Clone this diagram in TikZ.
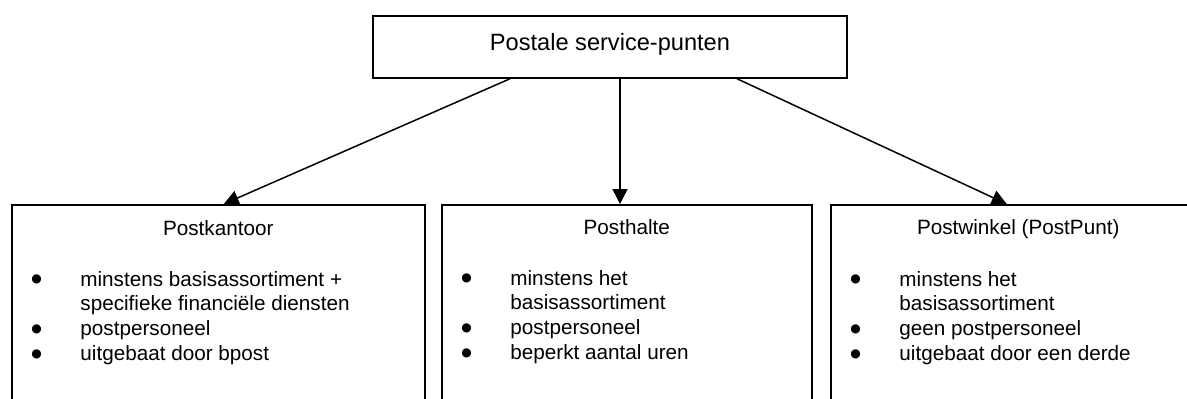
\documentclass[tikz,border=0pt]{standalone}
\usepackage{fontspec}
\setmainfont{Liberation Sans}
\newfontfamily\dejavu{DejaVu Sans}
\usetikzlibrary{arrows.meta}
\tikzset{%
    card/.style={draw,line width=0.75pt,anchor=north west,minimum height=102pt,inner sep=0pt},
    pijl/.style={line width=0.75pt,-{Triangle[length=7.5pt,width=7.5pt]}},
    kop/.style={anchor=base,inner sep=0pt,font=\fontsize{10.35}{12.4}\selectfont},
    lijst/.style={anchor=base west,inner sep=0pt,font=\fontsize{10.35}{12.4}\selectfont}
}
\newcommand{\itm}{\makebox[24.5pt][l]{\raisebox{1.6pt}{\dejavu\fontsize{6}{7}\selectfont ●}}}
\newcommand{\ind}{\hspace*{24.5pt}}

\begin{document}
\begin{tikzpicture}[x=0.5pt,y=-0.5pt]
            \path[use as bounding box] (0,0) rectangle (1187,398);
            \clip (0,0) rectangle (1187,398);
            \node[draw,line width=0.75pt,minimum width=237pt,minimum height=31pt,
                  text height=8pt,text depth=5pt,font=\fontsize{11.8}{14}\selectfont] (top) at (610,47) {Postale service-punten};

            \node[card,minimum width=206.5pt] (kantoor) at (11,204) {};
            \node[card,minimum width=185pt] (halte) at (441,204) {};
            \node[card,minimum width=187.5pt] (winkel) at (830,204) {};

            \node[kop] (kantoor-kop) at ([yshift=-15.5pt]kantoor.north) {Postkantoor};
            \node[kop] (halte-kop) at ([yshift=-15pt]halte.north) {Posthalte};
            \node[kop] (winkel-kop) at ([yshift=-15pt]winkel.north) {Postwinkel (PostPunt)};

            \node[lijst] (kantoor-lijst) at ([xshift=10pt,yshift=-41pt]kantoor.north west)
                {\begin{tabular}[t]{@{}l@{}}
                 \itm minstens basisassortiment +\\
                 \ind specifieke financiële diensten\\
                 \itm postpersoneel\\
                 \itm uitgebaat door bpost
                 \end{tabular}};
            \node[lijst] (halte-lijst) at ([xshift=10pt,yshift=-40.5pt]halte.north west)
                {\begin{tabular}[t]{@{}l@{}}
                 \itm minstens het\\
                 \ind basisassortiment\\
                 \itm postpersoneel\\
                 \itm beperkt aantal uren
                 \end{tabular}};
            \node[lijst] (winkel-lijst) at ([xshift=10pt,yshift=-41pt]winkel.north west)
                {\begin{tabular}[t]{@{}l@{}}
                 \itm minstens het\\
                 \ind basisassortiment\\
                 \itm geen postpersoneel\\
                 \itm uitgebaat door een derde
                 \end{tabular}};

            % pijlen van boven naar de drie soorten
            \draw[pijl] ([xshift=-50pt]top.south) -- ([xshift=2.75pt]kantoor.north);
            \draw[pijl] ([xshift=5pt]top.south) -- ([xshift=5pt]top.south |- halte.north);
            \draw[pijl] ([xshift=63.5pt]top.south) -- ([xshift=-5.75pt]winkel.north);
\end{tikzpicture}
\end{document}
